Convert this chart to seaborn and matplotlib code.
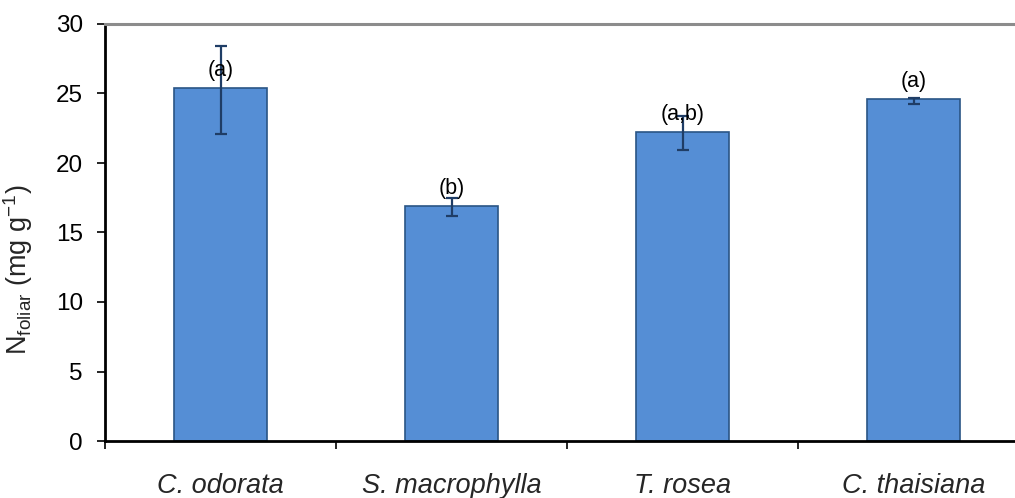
import matplotlib
matplotlib.use("Agg")
import matplotlib.pyplot as plt
import seaborn as sns
import pandas as pd
import numpy as np

# Foliar nitrogen by species
species = ["C. odorata", "S. macrophylla", "T. rosea", "C. thaisiana"]
n_foliar = [25.4, 16.9, 22.2, 24.6]
err_lower = [3.3, 0.7, 1.3, 0.35]
err_upper = [3.0, 0.6, 1.15, 0.05]
groups = ["(a)", "(b)", "(a,b)", "(a)"]
y_ticks = [0, 5, 10, 15, 20, 25, 30]

sns.set_theme(style="white")
plt.rcParams["font.family"] = ["Liberation Sans", "DejaVu Sans"]
plt.rcParams["mathtext.fontset"] = "custom"
plt.rcParams["mathtext.rm"] = "Liberation Sans"
plt.rcParams["mathtext.it"] = "Liberation Sans:italic"

df = pd.DataFrame({"species": species, "n": n_foliar})

fig = plt.figure(figsize=(10.15, 4.98), dpi=100)
ax = fig.add_axes([105 / 1015, 57 / 498, 924 / 1015, 417 / 498])

bar_fill = "#558ED5"
bar_edge = "#2A5585"
err_color = "#1F3D66"

sns.barplot(data=df, x="species", y="n", color=bar_fill, width=0.4,
            saturation=1, edgecolor=bar_edge, linewidth=1.2,
            errorbar=None, ax=ax)

xpos = np.arange(len(species))
ax.errorbar(xpos, n_foliar, yerr=[err_lower, err_upper], fmt="none",
            ecolor=err_color, elinewidth=1.6, capsize=4.5, capthick=1.6,
            zorder=5)

for x, v, g in zip(xpos, n_foliar, groups):
    ax.annotate(g, xy=(x, v), xytext=(0, 5), textcoords="offset points",
                ha="center", va="bottom", fontsize=15.5, color="black",
                zorder=6)

ax.set_xlim(-0.5, 3.5)
ax.set_ylim(0, 30)
ax.set_yticks(y_ticks)
ax.set_yticklabels([str(t) for t in y_ticks], fontsize=17.5)
ax.tick_params(axis="y", direction="out", length=6, width=1.2,
               pad=10, colors="black", left=True)

ax.set_xticks(xpos)
ax.set_xticklabels(species, fontsize=19.5, style="italic")
ax.tick_params(axis="x", which="major", length=0, pad=23)
ax.set_xticks(np.arange(-0.5, 4.0, 1.0), minor=True)
ax.tick_params(axis="x", which="minor", direction="out", length=6,
               width=1.2, color="black", bottom=True)

ax.set_xlabel("")
ax.set_ylabel(r"N$_{\mathrm{foliar}}$ (mg g$^{\mathrm{-1}}$)", fontsize=19.5)
ax.yaxis.set_label_coords(-0.076, 0.41)

for side in ["left", "bottom"]:
    ax.spines[side].set_color("black")
    ax.spines[side].set_linewidth(2.0)
ax.spines["top"].set_color("#8C8C8C")
ax.spines["top"].set_linewidth(2.2)
ax.spines["right"].set_visible(False)

fig.savefig("out.png", dpi=100, facecolor="white")
